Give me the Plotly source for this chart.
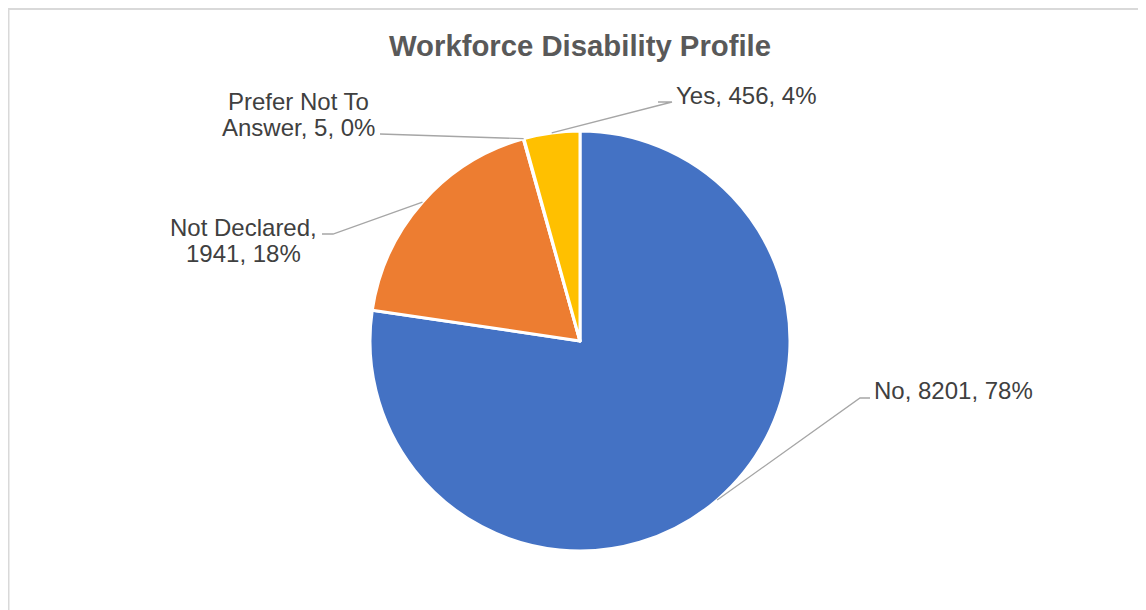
import math
import textwrap
import plotly.graph_objects as go

# ---- data ----
categories = ["No", "Not Declared", "Prefer Not To Answer", "Yes"]
values = [8201, 1941, 5, 456]
pct_labels = ["78%", "18%", "0%", "4%"]
colors = ["#4472C4", "#ED7D31", "#A5A5A5", "#FFC000"]
wrap_widths = [0, 13, 13, 0]

# ---- layout constants (screen pixels) ----
W, H = 1146, 610
OFF = 8  # page body margin in the browser
CX, CY, R = 580, 341, 210
# label layout: (text x, text y center, anchor side, elbow x, elbow y, end x, end y)
label_layout = [
    (872, 390, "left", 860, 398, 870, 398),
    (243, 240, "center", 333, 234, 322, 234),
    (298, 114, "center", 380, 134, 380, 134),
    (674, 95, "left", 672, 102, 658, 102),
]
LINE_GAP = 26
FONT = "Liberation Sans, Arial, sans-serif"


def X(px):
    return (px - OFF) / W


def Y(py):
    return 1 - (py - OFF) / H


fig = go.Figure()
fig.add_trace(go.Pie(
    labels=categories,
    values=values,
    sort=False,
    direction="clockwise",
    rotation=0,
    marker=dict(colors=colors, line=dict(color="white", width=3)),
    textinfo="none",
    hoverinfo="label+value+percent",
    showlegend=False,
    domain=dict(x=[X(CX - R), X(CX + R)], y=[Y(CY + R), Y(CY - R)]),
))

total = sum(values)
cum = 0
annotations = []
shapes = []
for i, (cat, val) in enumerate(zip(categories, values)):
    frac = val / total
    mid = (cum + frac / 2) * 2 * math.pi
    cum += frac
    ax = CX + R * math.sin(mid)
    ay = CY - R * math.cos(mid)
    tx, ty, side, ex, ey, fx, fy = label_layout[i]
    # leader line
    shapes.append(dict(
        type="path", xref="paper", yref="paper",
        path=f"M {X(ax)} {Y(ay)} L {X(ex)} {Y(ey)} L {X(fx)} {Y(fy)}",
        line=dict(color="#A6A6A6", width=1.3),
    ))
    text = f"{cat}, {val}, {pct_labels[i]}"
    lines = textwrap.wrap(text, wrap_widths[i]) if wrap_widths[i] else [text]
    n = len(lines)
    for j, ln in enumerate(lines):
        yc = ty + (j - (n - 1) / 2) * LINE_GAP
        annotations.append(dict(
            x=X(tx), y=Y(yc), xref="paper", yref="paper",
            text=ln, showarrow=False, xanchor=side, yanchor="middle",
            font=dict(family=FONT, size=24, color="#404040"),
        ))

# chart border (only top/left visible in frame)
shapes.append(dict(
    type="rect", xref="paper", yref="paper",
    x0=X(8.5), y0=-0.1, x1=1.1, y1=Y(9),
    line=dict(color="#D9D9D9", width=2), fillcolor="rgba(0,0,0,0)",
    layer="below",
))

fig.update_layout(
    width=W, height=H,
    margin=dict(l=0, r=0, t=0, b=0),
    paper_bgcolor="white",
    plot_bgcolor="white",
    title=dict(
        text="<b>Workforce Disability Profile</b>",
        x=X(580), xanchor="center", y=Y(46), yanchor="middle",
        font=dict(family=FONT, size=29.3, color="#595959"),
    ),
    annotations=annotations,
    shapes=shapes,
)

fig.write_html("out.html")
